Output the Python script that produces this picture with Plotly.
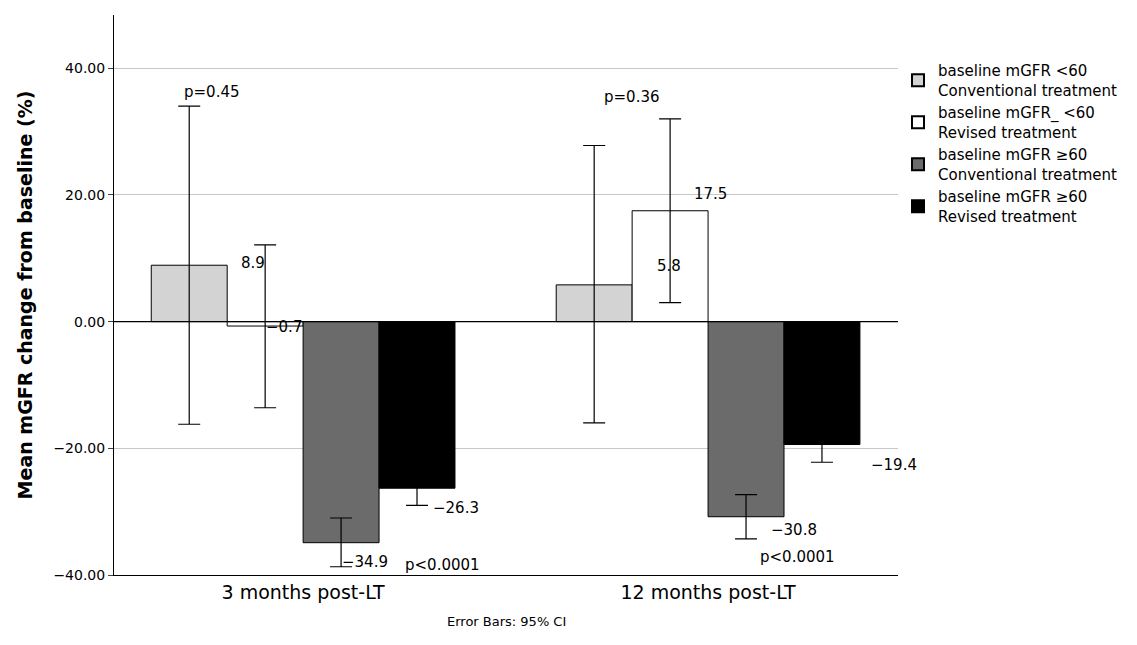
import plotly.graph_objects as go

CATEGORIES = [0, 1]
TICK_LABELS = ["3 months post-LT", "12 months post-LT"]
SERIES = [
    "baseline mGFR <60<br>Conventional treatment",
    "baseline mGFR_ <60<br>Revised treatment",
    "baseline mGFR ≥60<br>Conventional treatment",
    "baseline mGFR ≥60<br>Revised treatment",
]
COLORS = ["#d3d3d3", "#ffffff", "#6b6b6b", "#000000"]
MEANS = [[8.9, 5.8], [-0.7, 17.5], [-34.9, -30.8], [-26.3, -19.4]]
CI_UPPER = [[34.0, 27.8], [12.1, 32.0], [-31.0, -27.3], [-23.5, -16.5]]
CI_LOWER = [[-16.2, -16.0], [-13.6, 3.0], [-38.7, -34.3], [-29.0, -22.2]]
VALUE_LABELS = [(-0.123, 9.3, "8.9"), (-0.047, -0.8, "−0.7"), (0.153, -37.9, "−34.9"),
                (0.378, -29.4, "−26.3"), (0.904, 8.7, "5.8"), (1.005, 20.1, "17.5"),
                (1.212, -32.9, "−30.8"), (1.459, -22.6, "−19.4")]
P_LABELS = [(-0.225, 36.2, "p=0.45"), (0.343, -38.4, "p<0.0001"),
            (0.812, 35.5, "p=0.36"), (1.222, -37.1, "p<0.0001")]

fig = go.Figure()
for name, color, m, hi, lo in zip(SERIES, COLORS, MEANS, CI_UPPER, CI_LOWER):
    fig.add_trace(go.Bar(
        x=CATEGORIES, y=m, name=name, marker=dict(color=color, line=dict(color="black", width=1)),
        error_y=dict(type="data", symmetric=False,
                     array=[h - v for h, v in zip(hi, m)],
                     arrayminus=[v - l for l, v in zip(lo, m)],
                     color="black", thickness=1.2, width=11),
    ))

for x, y, t in VALUE_LABELS + P_LABELS:
    fig.add_annotation(x=x, y=y, text=t, showarrow=False, xanchor="center",
                       font=dict(size=15, color="black"))
fig.add_annotation(x=0.5, y=-0.1, xref="paper", yref="paper", text="Error Bars: 95% CI",
                   showarrow=False, font=dict(size=13, color="black"))
fig.add_hline(y=0, line=dict(color="black", width=1.2))

fig.update_layout(
    width=1137, height=645, barmode="group", bargap=0.25, bargroupgap=0,
    plot_bgcolor="white", paper_bgcolor="white",
    font=dict(family="DejaVu Sans", color="black"),
    margin=dict(l=106, r=247, t=7, b=78),
    legend=dict(x=1.0, y=0.93, xanchor="left", yanchor="top", font=dict(size=15),
                tracegroupgap=0, itemsizing="constant"),
)
fig.update_xaxes(tickvals=CATEGORIES, ticktext=TICK_LABELS, range=[-0.467, 1.469],
                 tickfont=dict(size=19), showline=True, linecolor="black", ticks="")
fig.update_yaxes(range=[-40, 48.4], tickvals=[-40, -20, 0, 20, 40], tickformat=".2f",
                 showgrid=True, gridcolor="#c8c8c8", zeroline=False, showline=True,
                 linecolor="black", ticks="outside", ticklen=5, tickfont=dict(size=14),
                 title=dict(text="<b>Mean mGFR change from baseline (%)</b>", font=dict(size=19)))

fig.write_html("out.html")
